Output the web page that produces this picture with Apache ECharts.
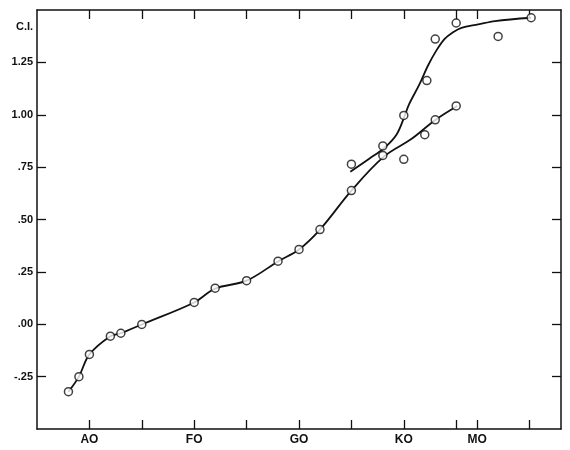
<!DOCTYPE html>
<html>
<head>
<meta charset="utf-8">
<script src="https://cdn.jsdelivr.net/npm/echarts@6/dist/echarts.min.js"></script>
<style>
html,body{margin:0;padding:0;background:#fff;}
#chart{width:570px;height:450px;}
</style>
</head>
<body>
<div id="chart"></div>
<script>
// Spectral type axis (numeric subclasses: AO = 0, FO = 10, GO = 20, KO = 30, MO = 37)
const spectralTickValues = [0, 5, 10, 15, 20, 25, 30, 35, 37, 42];
const spectralLabelValues = [0, 10, 20, 30, 37];
const spectralLabels = ['AO', 'FO', 'GO', 'KO', 'MO'];
const ciTickValues = [-0.25, 0, 0.25, 0.5, 0.75, 1.0, 1.25];
const ciTickLabels = ['-.25', '.00', '.25', '.50', '.75', '1.00', '1.25'];

// Observed points – main sequence / lower branch
const mainX = [-2, -1, 0, 2, 3, 5, 10, 12, 15, 18, 20, 22, 25, 28, 30, 32, 33, 35];
const mainY = [-0.322, -0.25, -0.144, -0.057, -0.043, -0.001, 0.104, 0.172, 0.208, 0.301, 0.357, 0.452, 0.638, 0.806, 0.787, 0.905, 0.976, 1.042];

// Observed points – upper branch
const upperX = [25, 28, 30, 32.2, 33, 35, 37, 39, 42.15];
const upperY = [0.764, 0.851, 0.997, 1.163, 1.361, 1.438, 1.501, 1.374, 1.463];

// Hand-drawn curves
const lowerCurveX = [-2, -1, 0, 2, 3, 5, 10, 12, 15, 18, 20, 22, 25, 28.1, 30.75, 33, 35.1];
const lowerCurveY = [-0.322, -0.25, -0.144, -0.057, -0.043, -0.001, 0.104, 0.17, 0.208, 0.30, 0.357, 0.452, 0.638, 0.80, 0.885, 0.975, 1.042];
const upperCurveX = [24.9, 26.7, 28.1, 29.3, 30.1, 30.5, 31.5, 32.3, 33.1, 33.9, 34.7, 35.5, 37.1, 38.7, 42.15];
const upperCurveY = [0.728, 0.79, 0.84, 0.905, 0.997, 1.05, 1.146, 1.234, 1.306, 1.362, 1.394, 1.415, 1.431, 1.447, 1.463];

const zip = (xs, ys) => xs.map((x, i) => [x, ys[i]]);
const labelMap = {};
spectralLabelValues.forEach((v, i) => { labelMap[v] = spectralLabels[i]; });
const ciMap = {};
ciTickValues.forEach((v, i) => { ciMap[v.toFixed(2)] = ciTickLabels[i]; });

const font = 'Liberation Sans';
const axisLine = { show: true, onZero: false, lineStyle: { color: '#111', width: 1.5 } };
const tick = { show: true, inside: true, length: 9, lineStyle: { color: '#111', width: 1.3 } };

const chart = echarts.init(document.getElementById('chart'), null, { renderer: 'canvas' });
chart.setOption({
  animation: false,
  backgroundColor: '#fff',
  grid: { left: 37, right: 9, top: 10, bottom: 21, containLabel: false },
  graphic: [{
    type: 'text', left: 16, top: 21,
    style: { text: 'C.I.', font: 'bold 11px "Liberation Sans"', fill: '#111' }
  }],
  xAxis: [{
    type: 'value', position: 'bottom', min: -5, max: 45,
    axisLine: axisLine,
    axisTick: Object.assign({}, tick, { customValues: spectralTickValues }),
    axisLabel: {
      customValues: spectralLabelValues, margin: 5,
      formatter: v => labelMap[v] || '',
      color: '#111', fontFamily: font, fontWeight: 'bold', fontSize: 12
    },
    splitLine: { show: false }
  }, {
    type: 'value', position: 'top', min: -5, max: 45,
    axisLine: axisLine,
    axisTick: Object.assign({}, tick, { customValues: spectralTickValues }),
    axisLabel: { show: false },
    splitLine: { show: false }
  }],
  yAxis: [{
    type: 'value', position: 'left', min: -0.5, max: 1.5, interval: 0.25,
    axisLine: axisLine,
    axisTick: Object.assign({}, tick, { customValues: ciTickValues }),
    axisLabel: {
      customValues: ciTickValues, margin: 4,
      formatter: v => ciMap[v.toFixed(2)] || '',
      color: '#111', fontFamily: font, fontWeight: 'bold', fontSize: 11
    },
    splitLine: { show: false }
  }, {
    type: 'value', position: 'right', min: -0.5, max: 1.5, interval: 0.25,
    axisLine: axisLine,
    axisTick: Object.assign({}, tick, { customValues: ciTickValues }),
    axisLabel: { show: false },
    splitLine: { show: false }
  }],
  series: [{
    type: 'line', data: zip(lowerCurveX, lowerCurveY), smooth: 0.35,
    showSymbol: false, lineStyle: { color: '#111', width: 1.8 }, silent: true
  }, {
    type: 'line', data: zip(upperCurveX, upperCurveY), smooth: 0.35,
    showSymbol: false, lineStyle: { color: '#111', width: 1.8 }, silent: true
  }, {
    type: 'scatter', data: zip(mainX, mainY), symbol: 'circle', symbolSize: 8,
    itemStyle: { color: '#fff', borderColor: '#111', borderWidth: 1.5 }, z: 5
  }, {
    type: 'scatter', data: zip(upperX, upperY), symbol: 'circle', symbolSize: 8,
    itemStyle: { color: '#fff', borderColor: '#111', borderWidth: 1.5 }, z: 5
  }]
});
</script>
</body>
</html>
